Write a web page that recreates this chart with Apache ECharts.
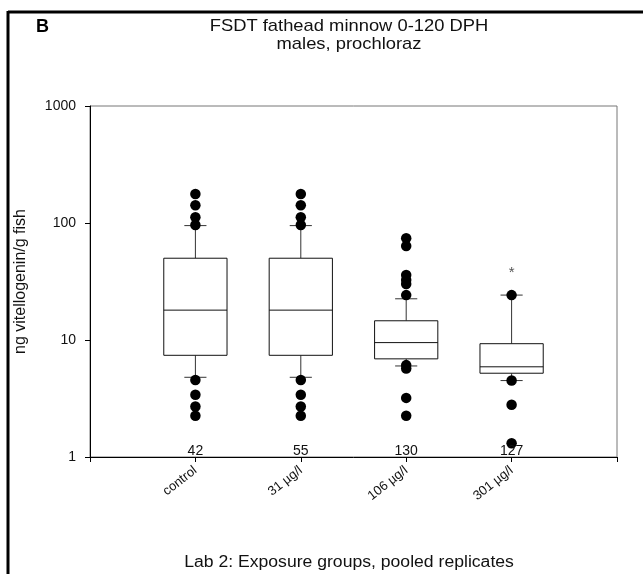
<!DOCTYPE html>
<html>
<head>
<meta charset="utf-8">
<script src="https://cdn.jsdelivr.net/npm/echarts@6/dist/echarts.min.js"></script>
<style>
html,body{margin:0;padding:0;background:#fff;}
#chart{width:643px;height:574px;}
</style>
</head>
<body>
<div id="chart"></div>
<script>
// ---- data ----
var categories = ['control', '31 µg/l', '106 µg/l', '301 µg/l'];
var counts = [42, 55, 130, 127];
// [lower whisker, Q1, median, Q3, upper whisker]
var boxControl = [4.8, 7.4, 18, 50, 95];
var box31 = [4.8, 7.4, 18, 50, 95];
var box106 = [6.0, 6.9, 9.5, 14.6, 22.5];
var box301 = [4.5, 5.2, 5.9, 9.3, 24.2];
var outControl = [177, 142, 112, 96, 4.55, 3.4, 2.7, 2.25];
var out31 = [177, 142, 112, 96, 4.55, 3.4, 2.7, 2.25];
var out106 = [74, 63.6, 35.9, 32.6, 30.1, 24.2, 6.1, 5.7, 3.2, 2.25];
var out301 = [24.2, 4.5, 2.8, 1.31];
var significance = ['', '', '', '*'];
var yTicks = [1, 10, 100, 1000];

var boxes = [boxControl, box31, box106, box301];
var outliers = [outControl, out31, out106, out301];
// category axis padded with empty slots at both ends (axis spacing)
var xCats = [''].concat(categories).concat(['']);

var boxData = boxes.map(function (b, i) { return [i + 1].concat(b); });
var outData = [];
outliers.forEach(function (arr, i) { arr.forEach(function (v) { outData.push([i + 1, v]); }); });
var countData = counts.map(function (c, i) { return [i + 1, yTicks[0], c]; });
var sigData = [];
significance.forEach(function (s, i) {
  if (s) sigData.push([i + 1, Math.max.apply(null, outliers[i].concat(boxes[i])), s]);
});

var FONT = 'Liberation Sans, Arial, sans-serif';
var chart = echarts.init(document.getElementById('chart'), null, {renderer: 'canvas'});
chart.setOption({
  backgroundColor: '#fff',
  animation: false,
  graphic: [
    {type: 'line', shape: {x1: 8, y1: 12, x2: 643, y2: 12}, style: {stroke: '#000', lineWidth: 3}},
    {type: 'line', shape: {x1: 8, y1: 11, x2: 8, y2: 574}, style: {stroke: '#000', lineWidth: 3}},
    {type: 'text', x: 36, y: 18, style: {text: 'B', font: 'bold 18px ' + FONT, fill: '#000'}},
    {type: 'text', x: 349, y: 17, scaleX: 1.08, style: {text: 'FSDT fathead minnow 0-120 DPH\nmales, prochloraz', font: '17px ' + FONT, fill: '#111', textAlign: 'center', textVerticalAlign: 'top', lineHeight: 18}},
    {type: 'text', x: 349, y: 563, scaleX: 1.1, style: {text: 'Lab 2: Exposure groups, pooled replicates', font: '16px ' + FONT, fill: '#111', textAlign: 'center', textVerticalAlign: 'middle'}}
  ],
  grid: {left: 90, right: 26, top: 106, bottom: 117, show: true, borderColor: '#777', borderWidth: 1, backgroundColor: 'transparent'},
  xAxis: {
    type: 'category', data: xCats, boundaryGap: false,
    axisLine: {lineStyle: {color: '#000', width: 1}},
    axisTick: {show: true, length: 5, inside: false, lineStyle: {color: '#000'}},
    axisLabel: {interval: 0, rotate: 38, fontSize: 13, color: '#111', fontFamily: FONT, margin: 12},
    splitLine: {show: false}
  },
  yAxis: {
    type: 'log', logBase: 10, min: 1, max: 1000,
    name: 'ng vitellogenin/g fish', nameLocation: 'middle', nameRotate: 90, nameGap: 61,
    nameTextStyle: {fontSize: 16, color: '#111', fontFamily: FONT},
    axisLine: {show: true, lineStyle: {color: '#000', width: 1}},
    axisTick: {show: true, length: 5, lineStyle: {color: '#000'}},
    axisLabel: {fontSize: 14, color: '#111', fontFamily: FONT, margin: 14, formatter: function (v) { return String(v); }},
    splitLine: {show: false},
    minorTick: {show: false}
  },
  series: [
    {
      type: 'custom',
      data: boxData,
      z: 2,
      renderItem: function (params, api) {
        var x = api.value(0);
        var band = api.size([1, 0])[0];
        var half = band * 0.3;
        var cap = band * 0.105;
        var pLo = api.coord([x, api.value(1)]);
        var pQ1 = api.coord([x, api.value(2)]);
        var pMed = api.coord([x, api.value(3)]);
        var pQ3 = api.coord([x, api.value(4)]);
        var pHi = api.coord([x, api.value(5)]);
        var cx = pQ1[0];
        var st = {stroke: '#111', lineWidth: 1, fill: null};
        return {
          type: 'group',
          children: [
            {type: 'line', shape: {x1: cx, y1: pHi[1], x2: cx, y2: pQ3[1]}, style: {stroke: '#333', lineWidth: 1}},
            {type: 'line', shape: {x1: cx, y1: pQ1[1], x2: cx, y2: pLo[1]}, style: {stroke: '#333', lineWidth: 1}},
            {type: 'line', shape: {x1: cx - cap, y1: pHi[1], x2: cx + cap, y2: pHi[1]}, style: {stroke: '#333', lineWidth: 1}},
            {type: 'line', shape: {x1: cx - cap, y1: pLo[1], x2: cx + cap, y2: pLo[1]}, style: {stroke: '#333', lineWidth: 1}},
            {type: 'rect', shape: {x: cx - half, y: pQ3[1], width: 2 * half, height: pQ1[1] - pQ3[1]}, style: {stroke: '#111', lineWidth: 1, fill: '#fff'}},
            {type: 'line', shape: {x1: cx - half, y1: pMed[1], x2: cx + half, y2: pMed[1]}, style: st}
          ]
        };
      }
    },
    {
      type: 'scatter',
      data: outData,
      symbol: 'circle',
      symbolSize: 10.5,
      itemStyle: {color: '#000', opacity: 1},
      z: 3
    },
    {
      type: 'custom',
      data: countData,
      z: 4,
      renderItem: function (params, api) {
        var p = api.coord([api.value(0), api.value(1)]);
        return {type: 'text', x: p[0], y: p[1] + 1, style: {text: String(api.value(2)), font: '14px ' + FONT, fill: '#111', textAlign: 'center', textVerticalAlign: 'bottom'}};
      }
    },
    {
      type: 'custom',
      data: sigData,
      z: 4,
      renderItem: function (params, api) {
        var p = api.coord([api.value(0), api.value(1)]);
        return {type: 'text', x: p[0], y: p[1] - 22, style: {text: '*', font: '15px ' + FONT, fill: '#555', textAlign: 'center', textVerticalAlign: 'middle'}};
      }
    }
  ]
});
</script>
</body>
</html>
